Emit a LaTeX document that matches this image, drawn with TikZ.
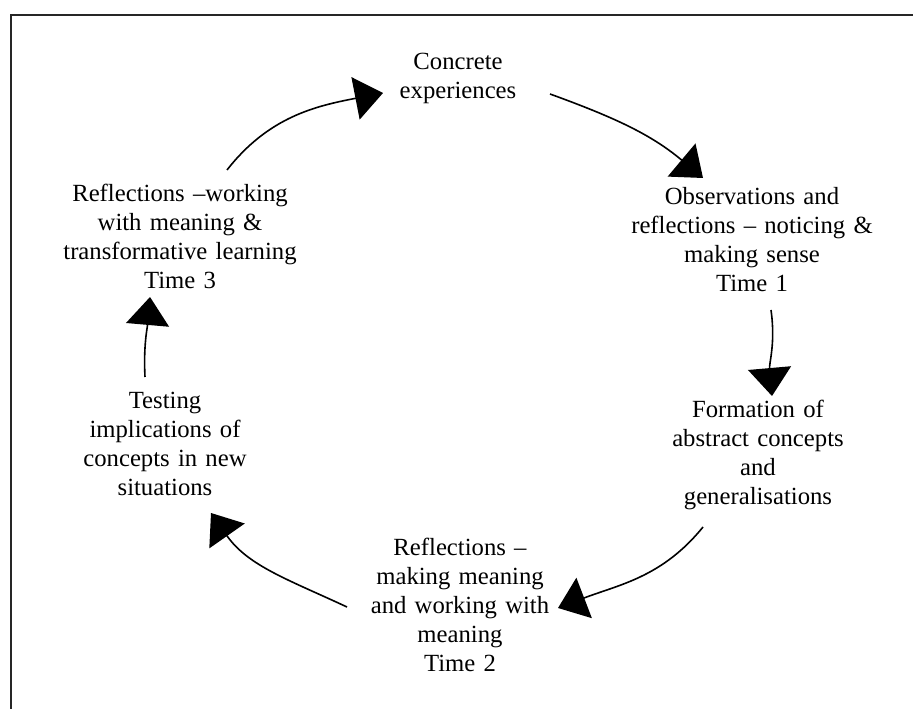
\documentclass[tikz,border=0pt]{standalone}
\usepackage{fontspec}
\setmainfont{Liberation Serif}
\usetikzlibrary{arrows.meta}
\newcommand{\stagefont}{\fontsize{24.7}{28.8}\selectfont}
\tikzstyle{stagetext}=[text width=300pt,align=center,anchor=base,
			inner sep=0pt,font=\stagefont]
\tikzstyle{cyclearrow}=[-{Triangle[length=28pt,width=43pt]},line width=1.6pt]
\tikzstyle{frame}=[line width=2pt,black!85]

\begin{document}
\begin{tikzpicture}[x=1pt,y=1pt]
	\useasboundingbox (0,0) rectangle (913,709);
	\draw[frame] (11,0) |- (913,694);

	\node[stagetext] (conc)  at (458,639) {Concrete\\experiences};
	\node[stagetext] (obs)   at (752,504) {Observations and\\reflections – noticing \&\\making sense\\Time 1};
	\node[stagetext] (form)  at (758,291) {Formation of\\abstract concepts\\and\\generalisations};
	\node[stagetext] (refl2) at (460,153) {Reflections –\\making meaning\\and working with\\meaning\\Time 2};
	\node[stagetext] (test)  at (165,300) {Testing\\implications of\\concepts in new\\situations};
	\node[stagetext] (refl3) at (180,507) {Reflections –working\\with meaning \&\\transformative learning\\Time 3};

	% arrow ends between the stages
	\coordinate (refl3-out) at (227,539);
	\coordinate (conc-in)   at (383,616);
	\coordinate (conc-out)  at (550,615);
	\coordinate (obs-in)    at (703,531);
	\coordinate (obs-out)   at (771,399);
	\coordinate (form-in)   at (772,313);
	\coordinate (form-out)  at (703,182);
	\coordinate (refl2-in)  at (558,101);
	\coordinate (refl2-out) at (347,102);
	\coordinate (test-in)   at (211,196);
	\coordinate (test-out)  at (145,332);
	\coordinate (refl3-in)  at (150,412);

	\path[cyclearrow]
		(refl3-out) edge[out=52,in=191]  (conc-in)
		(conc-out)  edge[out=-20,in=140] (obs-in)
		(obs-out)   edge[out=-82,in=95]  (form-in)
		(form-out)  edge[out=231,in=21]  (refl2-in)
		(refl2-out) edge[out=155,in=-55] (test-in)
		(test-out)  edge[out=93,in=265]  (refl3-in);
\end{tikzpicture}
\end{document}
